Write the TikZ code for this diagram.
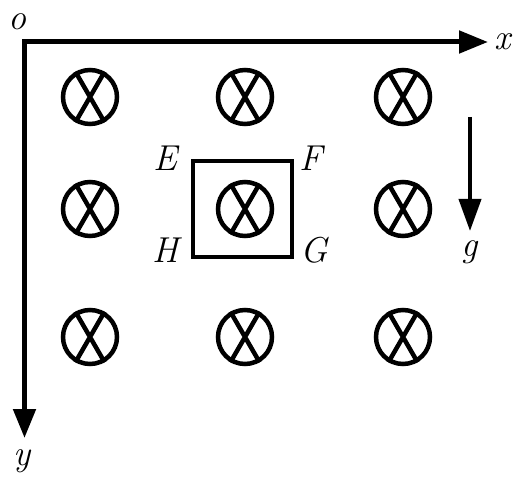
\documentclass[tikz,border=0pt]{standalone}
\usepackage{fontspec}
\usetikzlibrary{arrows.meta}
\begin{document}
\begin{tikzpicture}[x=1pt,y=-1pt,
  lab/.style={font=\fontsize{36}{40}\selectfont\itshape, inner sep=0pt},
  field/.style={circle, draw, line width=4.5pt, minimum size=54pt, inner sep=0pt},
  axis/.style={line width=5pt, line join=miter}]
\useasboundingbox (0,0) rectangle (515,484);
% axes
\coordinate (O) at (24.5,42);
\coordinate (X) at (488,42);
\coordinate (Y) at (24.5,438);
\draw[axis,{Triangle[length=29pt,width=22pt]}-{Triangle[length=29pt,width=22pt]}] (X) -- (O) -- (Y);
\node[lab] (lo) at (18,22) {o};
\node[lab] (lx) at (503,42) {x};
\node[lab] (ly) at (22,461) {y};
% field markers
\foreach \i/\xx in {1/90,2/245,3/403}{
  \foreach \j/\yy in {1/97,2/209,3/337}{
    \node[field] (c\i\j) at (\xx,\yy) {};
    \draw[line width=4.5pt] (c\i\j.60) -- (c\i\j.240) (c\i\j.120) -- (c\i\j.300);
  }
}
% square loop
\coordinate (E) at (193,161);
\coordinate (F) at (292,161);
\coordinate (G) at (292,257);
\coordinate (H) at (193,257);
\draw[line width=4pt] (E) -- (F) -- (G) -- (H) -- cycle;
\node[lab] (lE) at (165,158) {E};
\node[lab] (lF) at (311,158) {F};
\node[lab] (lH) at (166,250) {H};
\node[lab] (lG) at (314,250) {G};
% gravity
\coordinate (g1) at (470,117);
\coordinate (g2) at (470,231);
\draw[line width=4pt,-{Triangle[length=32pt,width=22pt]}] (g1) -- (g2);
\node[lab] (lg) at (470,252) {g};
\end{tikzpicture}
\end{document}
